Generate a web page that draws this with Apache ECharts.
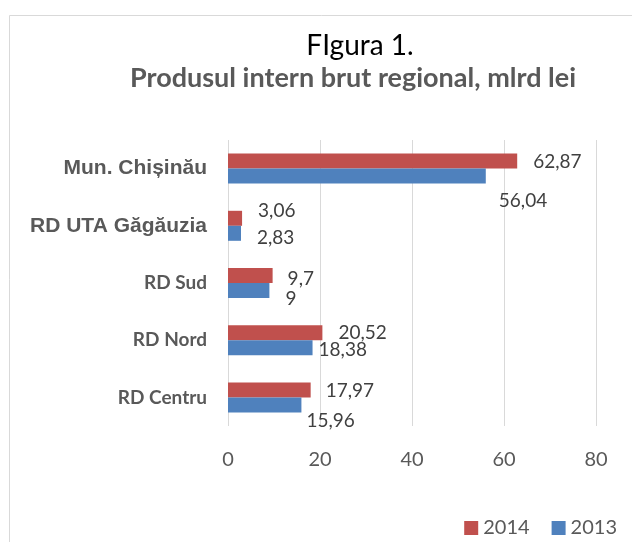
<!DOCTYPE html>
<html>
<head>
<meta charset="utf-8">
<script src="https://cdn.jsdelivr.net/npm/echarts@6/dist/echarts.min.js"></script>
<style>
  html, body { margin: 0; padding: 0; background: #fff; }
  #chart { width: 632px; height: 542px; }
</style>
</head>
<body>
<div id="chart"></div>
<script>
// regions, bottom to top as they sit on the axis
var regions = ['RD Centru', 'RD Nord', 'RD Sud', 'RD UTA Găgăuzia', 'Mun. Chișinău']
var values2014 = [17.97, 20.52, 9.7, 3.06, 62.87]
var values2013 = [15.96, 18.38, 9, 2.83, 56.04]
var xTicks = [0, 20, 40, 60, 80]

// where Excel dropped each value label, relative to the bar end
var offsets2014 = [[15, 1], [16, 0], [15, 3], [16, -7], [16, 1]]
var offsets2013 = [[5, 16], [6, 2], [16, 8], [16, 5], [13, 25]]

var bigNames = ['RD UTA Găgăuzia', 'Mun. Chișinău']

function fmt(v) {
  return String(v).replace('.', ',')
}

function withLabels(vals, offs) {
  return vals.map(function(v, i) {
    return { value: v, label: { offset: offs[i] } }
  })
}

var valueLabel = {
  show: true,
  position: 'right',
  distance: 0,
  fontFamily: 'Lato',
  fontSize: 19,
  color: '#404040',
  formatter: function(p) { return fmt(p.value) }
}

var chart = echarts.init(document.getElementById('chart'))

chart.setOption({
  backgroundColor: '#fff',
  animation: false,
  color: ['#C0504D', '#4F81BD'],
  graphic: [{
    type: 'rect',
    shape: { x: 9.5, y: 15.5, width: 640, height: 560 },
    style: { fill: 'none', stroke: '#D9D9D9', lineWidth: 1 },
    silent: true
  }],
  title: [{
    text: 'FIgura 1.',
    left: 355,
    top: 27,
    textAlign: 'center',
    textStyle: { fontFamily: 'Lato', fontWeight: 'normal', fontSize: 28, color: '#000' }
  }, {
    text: 'Produsul intern brut regional, mlrd lei',
    left: 348,
    top: 60,
    textAlign: 'center',
    textStyle: { fontFamily: 'Lato', fontWeight: 'bold', fontSize: 27, color: '#595959' }
  }],
  legend: {
    right: 10,
    top: 513,
    itemWidth: 14,
    itemHeight: 14,
    itemGap: 22,
    icon: 'rect',
    data: ['2014', '2013'],
    textStyle: { fontFamily: 'Lato', fontSize: 20, color: '#595959' }
  },
  grid: {
    left: 228,
    right: 36,
    top: 140,
    bottom: 116
  },
  xAxis: {
    type: 'value',
    min: xTicks[0],
    max: xTicks[xTicks.length - 1],
    interval: 20,
    axisLine: { show: false },
    axisTick: { show: false },
    splitLine: { lineStyle: { color: '#D9D9D9', width: 1 } },
    axisLabel: {
      margin: 24,
      fontFamily: 'Lato',
      fontSize: 20,
      color: '#595959'
    }
  },
  yAxis: {
    type: 'category',
    data: regions,
    axisLine: { show: false },
    axisTick: { show: false },
    axisLabel: {
      margin: 21,
      formatter: function(name) {
        return bigNames.indexOf(name) >= 0 ? '{a|' + name + '}' : '{b|' + name + '}'
      },
      rich: {
        a: { fontFamily: 'Liberation Sans', fontWeight: 'bold', fontSize: 21, color: '#595959' },
        b: { fontFamily: 'Lato', fontWeight: 'bold', fontSize: 19, color: '#595959' }
      }
    }
  },
  series: [{
    name: '2014',
    type: 'bar',
    barWidth: 15,
    barGap: '0%',
    label: valueLabel,
    data: withLabels(values2014, offsets2014)
  }, {
    name: '2013',
    type: 'bar',
    barWidth: 15,
    barGap: '0%',
    label: valueLabel,
    data: withLabels(values2013, offsets2013)
  }]
})
</script>
</body>
</html>
